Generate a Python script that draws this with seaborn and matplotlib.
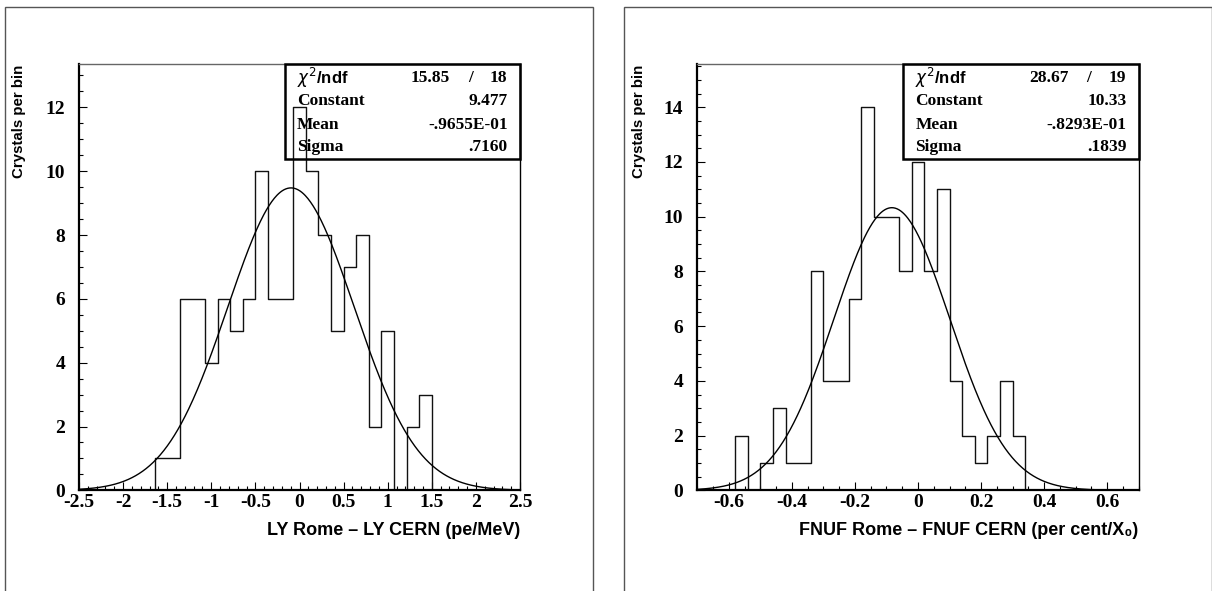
import numpy as np
import pandas as pd
import matplotlib
matplotlib.use("Agg")
import matplotlib.pyplot as plt
import matplotlib.patches as patches
from matplotlib.ticker import MultipleLocator, FuncFormatter
import seaborn as sns

# --- 1. DATA ---
# LY Rome - LY CERN, 35 bins over [-2.5, 2.5]
ly_range = (-2.5, 2.5)
ly_counts = [0, 0, 0, 0, 0, 0, 1, 1, 6, 6, 4, 6, 5, 6, 10, 6, 6, 12,
             10, 8, 5, 7, 8, 2, 5, 0, 2, 3, 0, 0, 0, 0, 0, 0, 0]
ly_fit = {'chi2': '15.85', 'ndf': '18', 'Constant': '9.477',
          'Mean': '-.9655E-01', 'Sigma': '.7160'}

# FNUF Rome - FNUF CERN, 35 bins over [-0.7, 0.7]
fnuf_range = (-0.7, 0.7)
fnuf_counts = [0, 0, 0, 2, 0, 1, 3, 1, 1, 8, 4, 4, 7, 14, 10, 10, 8, 12,
               8, 11, 4, 2, 1, 2, 4, 2, 0, 0, 0, 0, 0, 0, 0, 0, 0]
fnuf_fit = {'chi2': '28.67', 'ndf': '19', 'Constant': '10.33',
            'Mean': '-.8293E-01', 'Sigma': '.1839'}

ly_xlabel = 'LY Rome – LY CERN (pe/MeV)'
fnuf_xlabel = 'FNUF Rome – FNUF CERN (per cent/X₀)'
ylabel = 'Crystals per bin'

# --- 2. STYLE ---
sns.set_style('white')
plt.rcParams['font.family'] = ['Liberation Serif', 'DejaVu Serif']
plt.rcParams['axes.unicode_minus'] = False
plt.rcParams['mathtext.fontset'] = 'dejavusans'
plt.rcParams['text.color'] = 'black'
plt.rcParams['xtick.color'] = 'black'
plt.rcParams['ytick.color'] = 'black'

fig = plt.figure(figsize=(12.12, 5.91), dpi=100)

# outer PAW frames (bottom edge runs off the page)
for x0, x1 in [(5.3, 593.3), (624.3, 1211.5)]:
    fig.add_artist(patches.Rectangle((x0 / 1212, -0.05), (x1 - x0) / 1212, 1.05 - 6.7 / 591,
                                     transform=fig.transFigure, fill=False,
                                     edgecolor='#555555', linewidth=1.0))

sans = ['Liberation Sans', 'DejaVu Sans']


def tick_fmt(v, pos):
    return f"{round(v, 2) + 0.0:g}"


def draw_panel(rect, counts, xrange, fit, xlabel, ymax, xmajor, xminor, ylab_x):
    ax = fig.add_axes(rect)
    nbins = len(counts)
    width = (xrange[1] - xrange[0]) / nbins
    df = pd.DataFrame({'x': xrange[0] + width * (np.arange(nbins) + 0.5),
                       'n': counts})
    sns.histplot(data=df, x='x', weights='n', bins=nbins, binrange=xrange,
                 element='step', fill=False, color='#111111', linewidth=1.0, ax=ax)

    # gaussian fit curve from the quoted parameters
    c, m, s = float(fit['Constant']), float(fit['Mean']), float(fit['Sigma'])
    xs = np.linspace(xrange[0], xrange[1], 500)
    sns.lineplot(x=xs, y=c * np.exp(-0.5 * ((xs - m) / s) ** 2), color='black',
                 linewidth=1.0, ax=ax)

    ax.set_xlim(*xrange)
    ax.set_ylim(0, ymax)
    ax.set_xlabel('')
    ax.set_ylabel('')

    ax.xaxis.set_major_locator(MultipleLocator(xmajor))
    ax.xaxis.set_minor_locator(MultipleLocator(xminor))
    ax.yaxis.set_major_locator(MultipleLocator(2))
    ax.yaxis.set_minor_locator(MultipleLocator(0.5))
    ax.xaxis.set_major_formatter(FuncFormatter(tick_fmt))
    ax.yaxis.set_major_formatter(FuncFormatter(tick_fmt))
    ax.tick_params(which='both', direction='in', top=False, right=False,
                   bottom=True, left=True, width=0.8, color='black')
    ax.tick_params(which='major', length=5.8)
    ax.tick_params(which='minor', length=2.9)
    ax.tick_params(axis='x', pad=2.5)
    ax.tick_params(axis='y', pad=10)
    for lab in ax.get_xticklabels() + ax.get_yticklabels():
        lab.set_fontsize(14)
        lab.set_fontweight('bold')

    for sp in ax.spines.values():
        sp.set_visible(True)
        sp.set_color('black')
    ax.spines['left'].set_linewidth(1.6)
    ax.spines['bottom'].set_linewidth(1.6)
    ax.spines['right'].set_linewidth(1.0)
    ax.spines['top'].set_linewidth(1.0)
    ax.spines['top'].set_color('#666666')

    # stats box, top right
    ax.add_patch(patches.Rectangle((0.467, 0.778), 0.533, 0.222, transform=ax.transAxes,
                                   fill=False, edgecolor='black', linewidth=1.8,
                                   clip_on=False, zorder=5))
    rows_y = [0.969, 0.914, 0.858, 0.805]
    ax.text(0.4937, rows_y[0], r'$\chi^2$/ndf', transform=ax.transAxes, ha='left',
            va='center', fontsize=12, family=sans, fontweight='bold')
    ax.text(0.842, rows_y[0], fit['chi2'], transform=ax.transAxes, ha='right',
            va='center', fontsize=12.5, fontweight='bold')
    ax.text(0.887, rows_y[0], '/', transform=ax.transAxes, ha='center',
            va='center', fontsize=12.5, fontweight='bold')
    ax.text(0.972, rows_y[0], fit['ndf'], transform=ax.transAxes, ha='right',
            va='center', fontsize=12.5, fontweight='bold')
    for name, yy in zip(['Constant', 'Mean', 'Sigma'], rows_y[1:]):
        ax.text(0.4937, yy, name, transform=ax.transAxes, ha='left', va='center',
                fontsize=12.5, fontweight='bold')
        ax.text(0.972, yy, fit[name], transform=ax.transAxes, ha='right', va='center',
                fontsize=12.5, fontweight='bold')

    # PAW-style axis titles
    ax.text(1.0, -0.094, xlabel, transform=ax.transAxes, ha='right', va='center',
            fontsize=13, family=sans, fontweight='bold')
    ax.text(ylab_x, 1.0, ylabel, transform=ax.transAxes, ha='center', va='top',
            rotation=90, fontsize=10.8, family=sans, fontweight='bold')
    return ax


draw_panel([79 / 1212, 0.1703, 441 / 1212, 0.7209], ly_counts, ly_range, ly_fit,
           ly_xlabel, 13.35, 0.5, 0.1, -0.136)
draw_panel([697.3 / 1212, 0.1703, 441.4 / 1212, 0.7209], fnuf_counts, fnuf_range, fnuf_fit,
           fnuf_xlabel, 15.57, 0.2, 0.05, -0.133)

fig.savefig('out.png', dpi=100, facecolor='white')
